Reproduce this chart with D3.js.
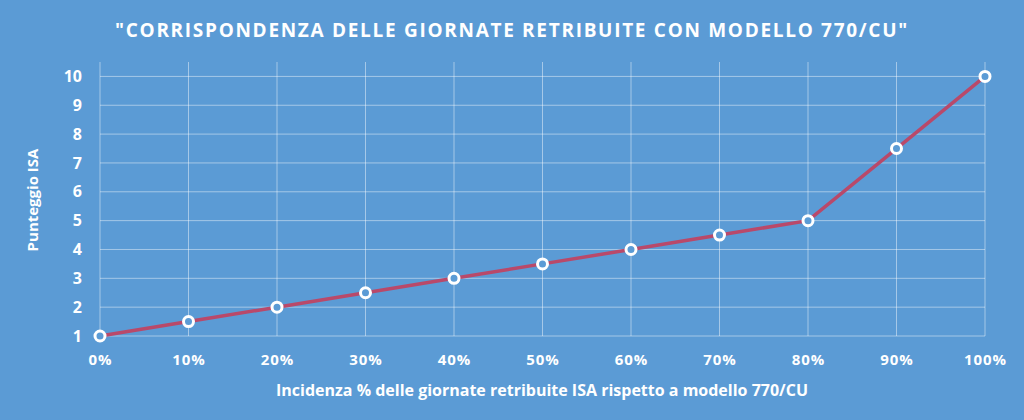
<!DOCTYPE html>
<html><head><meta charset="utf-8">
<script src="https://cdn.jsdelivr.net/npm/d3@7/dist/d3.min.js"></script>
<style>
html,body{margin:0;padding:0;background:#5b9bd5;}
svg{display:block;}
</style></head>
<body>
<svg id="chart" width="1024" height="420"></svg>
<script>
const categories = ["0%","10%","20%","30%","40%","50%","60%","70%","80%","90%","100%"];
const scores = [1, 1.5, 2, 2.5, 3, 3.5, 4, 4.5, 5, 7.5, 10];
const yTicks = [1,2,3,4,5,6,7,8,9,10];
const title = "\"CORRISPONDENZA DELLE GIORNATE RETRIBUITE CON MODELLO 770/CU\"";
const xTitle = "Incidenza % delle giornate retribuite ISA rispetto a modello 770/CU";
const yTitle = "Punteggio ISA";

const W = 1024, H = 420;
const m = {left:100, right:39, top:62, bottom:84};
const svg = d3.select("#chart");
svg.append("rect").attr("width",W).attr("height",H).attr("fill","#5b9bd5");

const x = d3.scalePoint().domain(categories).range([m.left, W-m.right]);
const y = d3.scaleLinear().domain([1, 10.5]).range([H-m.bottom, m.top]);

const grid = svg.append("g");
grid.selectAll("line.h").data(yTicks).join("line")
  .attr("x1", m.left).attr("x2", W-m.right)
  .attr("y1", d=>y(d)).attr("y2", d=>y(d))
  .attr("stroke","rgba(255,255,255,0.45)").attr("stroke-width",1);
grid.selectAll("line.v").data(categories).join("line")
  .attr("x1", d=>x(d)).attr("x2", d=>x(d))
  .attr("y1", m.top).attr("y2", y(1))
  .attr("stroke","rgba(255,255,255,0.45)").attr("stroke-width",1);

const font = "'Open Sans', sans-serif";
// y axis
const yAxis = svg.append("g").attr("transform",`translate(${m.left},0)`)
  .call(d3.axisLeft(y).tickValues(yTicks).tickSize(0).tickPadding(18).tickFormat(d3.format("d")));
yAxis.select(".domain").remove();
yAxis.selectAll("text").attr("fill","#fff").attr("font-family",font)
  .attr("font-weight","bold").attr("font-size","16px");

// x axis
const xAxis = svg.append("g").attr("transform",`translate(0,${y(1)})`)
  .call(d3.axisBottom(x).tickSize(0).tickPadding(18));
xAxis.select(".domain").remove();
xAxis.selectAll("text").attr("fill","#fff").attr("font-family",font)
  .attr("font-weight","bold").attr("font-size","15px").attr("letter-spacing","1px");

// line
const line = d3.line().x((d,i)=>x(categories[i])).y(d=>y(d));
svg.append("path").datum(scores).attr("d", line)
  .attr("fill","none").attr("stroke","#b9496a").attr("stroke-width",3.5);
svg.selectAll("circle.pt").data(scores).join("circle")
  .attr("cx",(d,i)=>x(categories[i])).attr("cy",d=>y(d)).attr("r",5)
  .attr("fill","#5b9bd5").attr("stroke","#fff").attr("stroke-width",3);

// titles
svg.append("text").attr("x",512).attr("y",37).attr("text-anchor","middle")
  .attr("fill","#fff").attr("font-family",font).attr("font-weight","bold")
  .attr("font-size","19px").attr("letter-spacing","1.7px").text(title);
svg.append("text").attr("x",542).attr("y",396).attr("text-anchor","middle")
  .attr("fill","#fff").attr("font-family",font).attr("font-weight","bold")
  .attr("font-size","16px").text(xTitle);
svg.append("text").attr("transform","translate(38,200) rotate(-90)").attr("text-anchor","middle")
  .attr("fill","#fff").attr("font-family",font).attr("font-weight","bold")
  .attr("font-size","15px").text(yTitle);
</script>
</body></html>
